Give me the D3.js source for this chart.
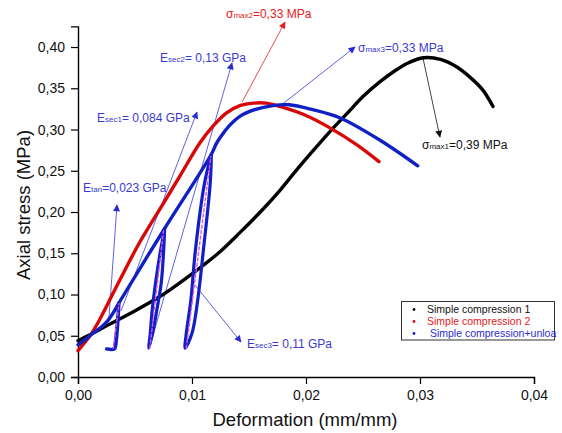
<!DOCTYPE html>
<html><head><meta charset="utf-8">
<script src="https://cdn.jsdelivr.net/npm/d3@7"></script>
<style>body{margin:0;background:#fff}svg{display:block}text{font-family:"Liberation Sans",Arial,sans-serif}</style>
</head><body><svg id="c" width="562" height="433"></svg>
<script>
// ---- data (strain mm/mm, stress MPa) ----
const xTicks = [0, 0.01, 0.02, 0.03, 0.04];
const yTicks = [0, 0.05, 0.10, 0.15, 0.20, 0.25, 0.30, 0.35, 0.40];
const seriesNames = ["Simple compression 1", "Simple compression 2", " Simple compression+unloa"];

const black = [[0,0.044],[0.0013,0.053],[0.0025,0.062],[0.0051,0.081],[0.007,0.096],[0.0081,0.106],[0.01,0.125],[0.0123,0.150],[0.0142,0.175],[0.0162,0.203],[0.0177,0.226],[0.019,0.248],[0.0206,0.274],[0.022,0.296],[0.0235,0.318],[0.025,0.340],[0.0265,0.358],[0.028,0.373],[0.029,0.381],[0.0303,0.387],[0.0318,0.385],[0.0332,0.376],[0.0345,0.362],[0.0355,0.348],[0.0364,0.328]];
const red = [[0,0.032],[0.001,0.049],[0.0018,0.067],[0.0035,0.113],[0.0054,0.163],[0.0076,0.213],[0.009,0.245],[0.0107,0.284],[0.0119,0.305],[0.013,0.320],[0.0142,0.329],[0.0154,0.332],[0.0165,0.332],[0.0177,0.328],[0.020,0.317],[0.0221,0.302],[0.0245,0.281],[0.0264,0.261]];
const blueEnvelope = [[0,0.039],[0.0007,0.046],[0.0013,0.053],[0.002,0.060],[0.0026,0.068],[0.0031,0.078],[0.0036,0.090],[0.0076,0.180],[0.0117,0.270],[0.0121,0.282],[0.0125,0.291],[0.0133,0.305],[0.0142,0.316],[0.0155,0.324],[0.0171,0.329],[0.0185,0.330],[0.0206,0.324],[0.023,0.314],[0.0265,0.287],[0.0298,0.256]];
const blueLoop1 = [[0.0036,0.090],[0.00348,0.072],[0.00335,0.052],[0.0032,0.036],[0.0031,0.034],[0.0025,0.034],[0.0032,0.034],[0.00338,0.046],[0.0035,0.066],[0.0036,0.090]];
const blueLoop2 = [[0.0076,0.180],[0.0072,0.150],[0.0068,0.114],[0.0065,0.080],[0.00632,0.050],[0.0062,0.035],[0.0065,0.050],[0.0069,0.080],[0.0073,0.114],[0.0075,0.150],[0.0076,0.180]];
const blueLoop3 = [[0.0117,0.270],[0.0111,0.235],[0.0103,0.154],[0.0099,0.093],[0.0095,0.053],[0.0094,0.035],[0.0100,0.053],[0.0105,0.093],[0.0110,0.154],[0.0116,0.235],[0.0117,0.270]];
const secantLines = [[[0.0031,0.035],[0.0036,0.089]],[[0.0063,0.035],[0.0075,0.177]],[[0.0095,0.035],[0.01165,0.267]]];

// annotation arrows: from, to (data coords)
const arrows = [
  {from:[0.00272,0.0727], to:[0.00342,0.2085], c:"blue"},
  {from:[0.00377,0.080], to:[0.01044,0.3212], c:"blue"},
  {from:[0.00623,0.0339], to:[0.01351,0.3806], c:"blue"},
  {from:[0.01026,0.1115], to:[0.0143,0.0424], c:"blue"},
  {from:[0.01439,0.3333], to:[0.01816,0.4303], c:"red"},
  {from:[0.01772,0.3285], to:[0.0243,0.4000], c:"blue"},
  {from:[0.03026,0.3867], to:[0.03175,0.2909], c:"black"}
];
const labels = [
  {at:[0.01298,0.4352], main:"σ", sub:"max2", rest:"=0,33 MPa", c:"red"},
  {at:[0.00719,0.3818], main:"E", sub:"sec2", rest:"= 0,13 GPa", c:"blue"},
  {at:[0.02456,0.3939], main:"σ", sub:"max3", rest:"=0,33 MPa", c:"blue"},
  {at:[0.00167,0.3091], main:"E", sub:"sec1", rest:"= 0,084 GPa", c:"blue"},
  {at:[0.03018,0.2764], main:"σ", sub:"max1", rest:"=0,39 MPa", c:"black"},
  {at:[0.00044,0.2242], main:"E", sub:"tan", rest:"=0,023 GPa", c:"blue"},
  {at:[0.01482,0.0352], main:"E", sub:"sec3", rest:"= 0,11 GPa", c:"blue"}
];

// ---- drawing ----
const COL = {black:"#000000", red:"#d80808", blue:"#1020c4"};
const TXT = {black:"#111111", red:"#e42020", blue:"#3a3ad0"};
const svg = d3.select("#c");
const x = d3.scaleLinear().domain([0, 0.04]).range([78, 534]);
const y = d3.scaleLinear().domain([0, 0.425]).range([377, 26.4]);
const fmt = d => d3.format(".2f")(d).replace(".", ",");

// axes
const gx = svg.append("g").attr("transform","translate(0,377)");
gx.call(d3.axisBottom(x).tickValues(d3.range(0.005, 0.04, 0.01)).tickSize(4).tickFormat(""));
gx.call(d3.axisBottom(x).tickValues(xTicks).tickSize(7).tickPadding(6).tickFormat(fmt));
const gy = svg.append("g").attr("transform","translate(78,0)");
gy.call(d3.axisLeft(y).tickValues(d3.range(0.025, 0.43, 0.05)).tickSize(4).tickFormat(""));
gy.call(d3.axisLeft(y).tickValues(yTicks).tickSize(7).tickPadding(6).tickFormat(fmt));
svg.selectAll(".domain").attr("stroke","#000").attr("stroke-width",1.4);
svg.selectAll(".tick line").attr("stroke","#000").attr("stroke-width",1.2);
svg.selectAll(".tick text").attr("font-size",14).attr("fill","#111").attr("font-family","Liberation Sans, Arial, sans-serif");

svg.append("text").attr("x",305).attr("y",426).attr("text-anchor","middle").attr("font-size",18.5).attr("fill","#111").text("Deformation (mm/mm)");
svg.append("text").attr("transform","translate(30,205) rotate(-90)").attr("text-anchor","middle").attr("font-size",18.5).attr("fill","#111").text("Axial stress (MPa)");

// arrow markers
const defs = svg.append("defs");
Object.keys(TXT).forEach(k=>{
  defs.append("marker").attr("id","ah-"+k).attr("viewBox","0 0 10 10").attr("refX",9).attr("refY",5)
    .attr("markerWidth",9).attr("markerHeight",7).attr("markerUnits","userSpaceOnUse").attr("orient","auto")
    .append("path").attr("d","M0,0L10,5L0,10z").attr("fill", k==="red"?"#e42020":(k==="blue"?"#2a2ad0":"#111"));
});

// annotation lines (under curves)
svg.append("g").selectAll("line").data(arrows).join("line")
  .attr("x1",d=>x(d.from[0])).attr("y1",d=>y(d.from[1]))
  .attr("x2",d=>x(d.to[0])).attr("y2",d=>y(d.to[1]))
  .attr("stroke",d=>d.c==="red"?"#e42020":(d.c==="blue"?"#3a3ad8":"#111"))
  .attr("stroke-width",0.8).attr("marker-end",d=>"url(#ah-"+d.c+")");

const smooth = d3.line().x(d=>x(d[0])).y(d=>y(d[1])).curve(d3.curveCatmullRom.alpha(0.5));
const straight = d3.line().x(d=>x(d[0])).y(d=>y(d[1]));
const g = svg.append("g").attr("fill","none").attr("stroke-linecap","round").attr("stroke-linejoin","round");
g.append("path").attr("d",smooth(black)).attr("stroke",COL.black).attr("stroke-width",3.4);
g.append("path").attr("d",smooth(red)).attr("stroke",COL.red).attr("stroke-width",3.4);
g.append("path").attr("d",smooth(blueEnvelope)).attr("stroke",COL.blue).attr("stroke-width",3.4);
[blueLoop1, blueLoop2, blueLoop3].forEach(l=>{
  g.append("path").attr("d",smooth(l)).attr("stroke",COL.blue).attr("stroke-width",3.2);
});
secantLines.forEach(s=>{
  g.append("path").attr("d",straight(s)).attr("stroke","#e050e8").attr("stroke-width",1.4).attr("stroke-dasharray","3,2.5");
});

// labels
labels.forEach(l=>{
  const t = svg.append("text").attr("x",x(l.at[0])).attr("y",y(l.at[1])).attr("fill",TXT[l.c]).attr("font-size",12);
  t.append("tspan").text(l.main);
  t.append("tspan").attr("font-size",8).text(l.sub);
  t.append("tspan").text(l.rest);
});

// legend
const lg = svg.append("g");
lg.append("rect").attr("x",401.5).attr("y",301.5).attr("width",153).attr("height",38.5).attr("fill","#fff").attr("stroke","#333").attr("stroke-width",1);
const lcols = [COL.black, COL.red, COL.blue];
const ltxt = ["#111", "#e42020", "#2a2ad0"];
seriesNames.forEach((n,i)=>{
  lg.append("circle").attr("cx",414).attr("cy",309.5+i*12).attr("r",1.4).attr("fill",lcols[i]);
  lg.append("text").attr("x",427).attr("y",313+i*12).attr("font-size",10.5).attr("fill",ltxt[i]).style("white-space","pre").text(n);
});
</script></body></html>
